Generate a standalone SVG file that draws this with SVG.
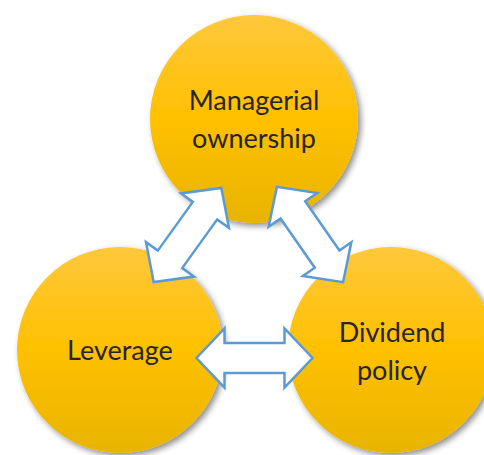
<svg xmlns="http://www.w3.org/2000/svg" width="484" height="455" viewBox="0 0 484 455">
  <defs>
    <linearGradient id="gold" x1="0" y1="0" x2="0" y2="1">
      <stop offset="0" stop-color="#FFC83C"/>
      <stop offset="0.5" stop-color="#FFC000"/>
      <stop offset="1" stop-color="#E8B400"/>
    </linearGradient>
    <filter id="shadow" x="-20%" y="-20%" width="140%" height="140%">
      <feGaussianBlur in="SourceAlpha" stdDeviation="3"/>
      <feOffset dx="3" dy="3" result="b"/>
      <feComponentTransfer><feFuncA type="linear" slope="0.45"/></feComponentTransfer>
      <feMerge><feMergeNode/><feMergeNode in="SourceGraphic"/></feMerge>
    </filter>
    <path id="arrow" d="M -58 0 L -30 -29.5 L -30 -15 L 30 -15 L 30 -29.5 L 58 0 L 30 29.5 L 30 15 L -30 15 L -30 29.5 Z"/>
  </defs>
  <style>
    .node { fill: url(#gold); filter: url(#shadow); }
    .lbl { font-family: Lato, "Liberation Sans", sans-serif; font-size: 27px; fill: #262626; text-anchor: middle; }
    .conn use { fill: #FFFFFF; stroke: #5B9BD5; stroke-width: 2.5; stroke-linejoin: miter; }
  </style>
  <g id="node-managerial">
    <circle class="node" cx="254" cy="119" r="104"/>
    <text class="lbl" x="254" y="110">Managerial</text>
    <text class="lbl" x="254" y="148">ownership</text>
  </g>
  <g id="node-leverage">
    <circle class="node" cx="120" cy="350" r="103"/>
    <text class="lbl" x="120" y="360">Leverage</text>
  </g>
  <g id="node-dividend">
    <circle class="node" cx="391" cy="350" r="103"/>
    <text class="lbl" x="392" y="342">Dividend</text>
    <text class="lbl" x="392" y="380">policy</text>
  </g>
  <g id="connectors" class="conn">
    <use href="#arrow" transform="translate(187.5 235) rotate(-54.3)"/>
    <use href="#arrow" transform="translate(310 234.5) rotate(55.2)"/>
    <use href="#arrow" transform="translate(254.5 358)"/>
  </g>
</svg>
